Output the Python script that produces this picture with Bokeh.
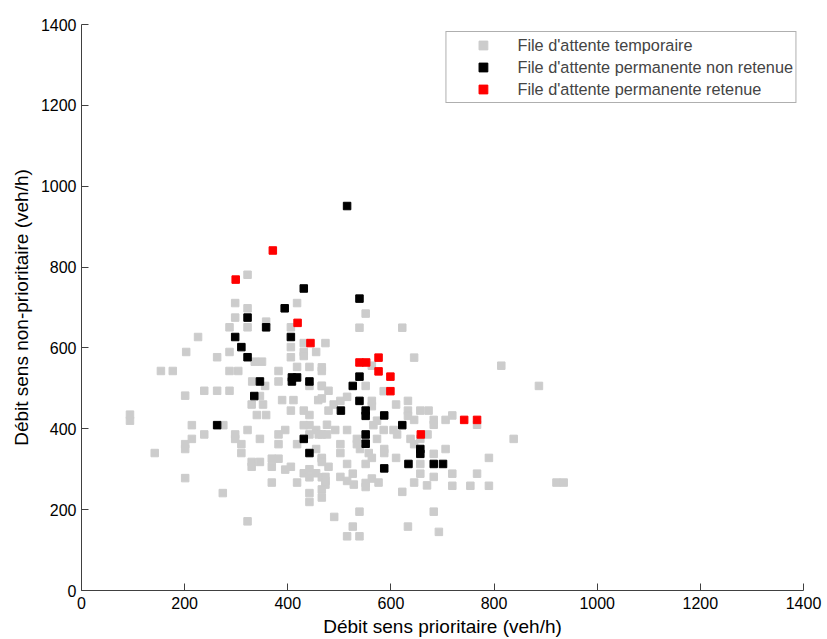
from bokeh.plotting import figure
from bokeh.models import Range1d, FixedTicker, Legend, LegendItem
from bokeh.embed import file_html
from bokeh.resources import INLINE

# File d'attente temporaire (grey)
temp_x = [322, 298, 418, 322, 298, 358, 287, 322, 406, 226, 431, 406, 203, 287, 431, 431, 455, 263,
          406, 336, 350, 473,
          154, 177, 287, 304, 382, 418, 442, 331, 382, 356, 442, 466, 201, 238, 263, 287, 346, 330,
          352, 389, 411, 459, 340, 358, 406, 431, 442, 94, 94, 214, 275, 322, 238, 298, 298, 382,
          395, 431, 442, 455, 442, 466, 214, 346, 201, 201, 310, 310, 382, 418, 455, 142, 369, 382,
          466, 330, 346, 330, 369, 395, 406, 431, 442, 455, 466, 442, 201, 369, 418, 442, 442, 466,
          274, 322,
          551, 539, 622, 645, 814, 563, 466,
          466, 887, 551, 466, 479, 586, 466, 515, 502, 563, 633, 610, 489, 479, 563, 633, 633, 657,
          673, 645, 683, 683, 719, 706, 767, 573, 566, 586, 605, 612, 476, 492, 476, 460, 515, 534,
          551, 573, 638, 657, 671, 502, 502, 534, 540, 587, 587, 645, 683, 706, 557, 563, 610, 790,
          838, 466, 466, 479, 515, 551, 657, 526, 563, 576, 657, 683, 719, 767, 473, 473, 473, 466,
          502, 515, 528, 551, 551, 622, 645, 670, 719, 754, 790, 921, 935, 539, 683, 490, 526, 633,
          693, 515, 539]
temp_y = [781, 711, 711, 698, 675, 665, 651, 651, 651, 627, 612, 602, 590, 590, 590, 580, 590, 577,
          577, 566, 566, 612,
          543, 543, 543, 543, 543, 553, 553, 517, 517, 506, 506, 506, 482, 494, 494, 494, 481, 460,
          460, 471, 471, 471, 434, 434, 445, 445, 434, 420, 435, 409, 409, 397, 386, 386, 375, 386,
          397, 409, 409, 397, 386, 386, 375, 375, 362, 350, 362, 340, 362, 362, 350, 340, 326, 326,
          326, 318, 318, 306, 306, 299, 306, 290, 300, 290, 280, 280, 278, 267, 267, 241, 219, 230,
          241, 171,
          685, 650, 650, 576, 556, 556, 552,
          543, 506, 506, 506, 494, 493, 475, 479, 469, 469, 469, 460, 460, 445, 456, 445, 432, 445,
          445, 422, 422, 410, 433, 422, 410, 420, 409, 397, 397, 386, 410, 397, 386, 386, 397, 375,
          375, 375, 375, 375, 386, 362, 340, 362, 350, 350, 340, 362, 338, 350, 340, 328, 328, 328,
          375, 328, 318, 306, 313, 313, 313, 289, 277, 267, 289, 281, 289, 289, 281, 271, 262, 250,
          281, 271, 262, 266, 256, 244, 267, 260, 259, 259, 259, 267, 267, 195, 195, 182, 158, 158,
          145, 134, 134]

# File d'attente permanente non retenue (black)
perm_non_x = [515, 539, 431, 394, 322, 358, 298, 406, 310, 322,
              346, 408, 418, 408, 442, 335, 263, 431, 442,
              539, 526, 539, 503, 551, 551, 587, 622, 551, 551, 657, 657, 634, 683, 701, 587]
perm_non_y = [951, 722, 747, 698, 675, 651, 627, 627, 602, 577,
              517, 527, 527, 517, 517, 481, 409, 375, 340,
              529, 506, 469, 445, 445, 432, 433, 409, 386, 363, 350, 338, 313, 313, 313, 302]

# File d'attente permanente retenue (red)
perm_ret_x = [371, 299, 419, 444, 539, 552, 576, 576, 599, 599, 658, 742, 767]
perm_ret_y = [841, 769, 662, 612, 564, 564, 576, 542, 529, 493, 386, 422, 422]

labels = ["File d'attente temporaire",
          "File d'attente permanente non retenue",
          "File d'attente permanente retenue"]
ticks = [0, 200, 400, 600, 800, 1000, 1200, 1400]

FONT = "Liberation Sans"

p = figure(width=827, height=639, output_backend="svg", toolbar_location=None,
           x_range=Range1d(0, 1400), y_range=Range1d(0, 1400),
           min_border_left=81, min_border_right=24, min_border_top=24, min_border_bottom=47)
p.grid.visible = False
p.outline_line_color = None
p.background_fill_color = "white"
p.border_fill_color = "white"

r1 = p.scatter(temp_x, temp_y, marker="square", size=7.5, fill_color="#cccccc", line_color="#cccccc")
r2 = p.scatter(perm_non_x, perm_non_y, marker="square", size=7.5, fill_color="black", line_color="black")
r3 = p.scatter(perm_ret_x, perm_ret_y, marker="square", size=7.5, fill_color="#ff0000", line_color="#ff0000")

for ax in (p.xaxis[0], p.yaxis[0]):
    ax.ticker = FixedTicker(ticks=ticks)
    ax.major_tick_in = 7
    ax.major_tick_out = 0
    ax.minor_tick_in = 0
    ax.minor_tick_out = 0
    ax.axis_line_color = "#404040"
    ax.major_tick_line_color = "#404040"
    ax.major_label_text_font = FONT
    ax.major_label_text_font_size = "16px"
    ax.major_label_text_color = "black"
    ax.axis_label_text_font = FONT
    ax.axis_label_text_font_size = "19px"
    ax.axis_label_text_font_style = "normal"
    ax.axis_label_text_color = "black"

p.xaxis.axis_label = "Débit sens prioritaire (veh/h)"
p.yaxis.axis_label = "Débit sens non-prioritaire (veh/h)"
p.xaxis.major_label_standoff = 6
p.yaxis.major_label_standoff = 5
p.xaxis.axis_label_standoff = 4
p.yaxis.axis_label_standoff = 6

legend = Legend(items=[LegendItem(label=labels[0], renderers=[r1]),
                       LegendItem(label=labels[1], renderers=[r2]),
                       LegendItem(label=labels[2], renderers=[r3])],
                location="top_right")
legend.margin = 7
legend.padding = 2
legend.spacing = 0
legend.glyph_width = 69
legend.glyph_height = 22
legend.label_height = 22
legend.label_standoff = 0
legend.label_text_font = FONT
legend.label_text_font_size = "16.3px"
legend.border_line_color = "#606060"
legend.border_line_width = 1
legend.background_fill_alpha = 1
p.add_layout(legend)

open("out.html", "w").write(file_html(p, INLINE))
